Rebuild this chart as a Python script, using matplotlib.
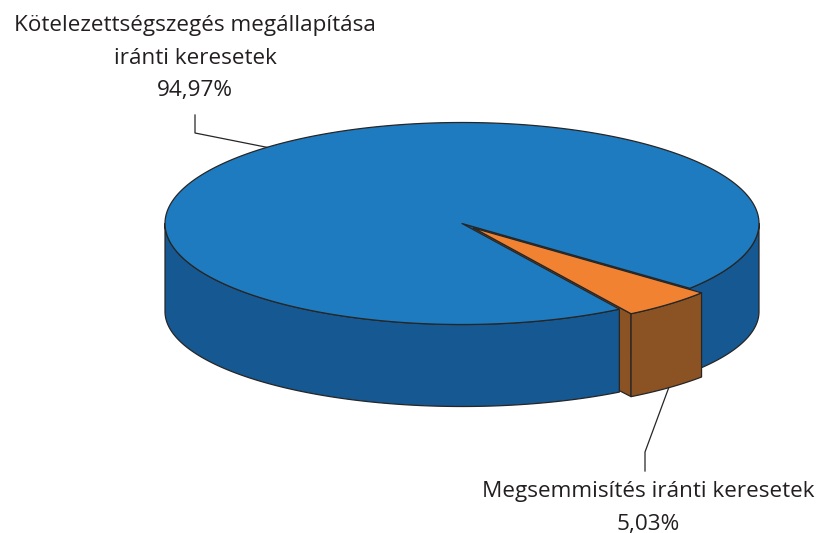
import numpy as np
import matplotlib.pyplot as plt
from matplotlib.patches import Polygon

# ---------------------------------------------------------------------------
# Data
# ---------------------------------------------------------------------------
labels = ["Kötelezettségszegés megállapítása\niránti keresetek",
          "Megsemmisítés iránti keresetek"]
shares = [94.97, 5.03]
pct_text = ["94,97%", "5,03%"]
explode = [0.0, 0.06]

top_colors = ["#1f7bc0", "#f08232"]
side_colors = ["#155892", "#8b5223"]
edge = "#262626"

# ---------------------------------------------------------------------------
# Pie geometry (pixel space)
# ---------------------------------------------------------------------------
W, H = 819, 533
cx, cy = 462.0, 223.5
rx, ry_top = 297.0, 101.0
depth, ry_bot = 88.0, 95.0
start_angle = -39.9


def top_pt(th, dx=0.0, dy=0.0):
    t = np.radians(th)
    return cx + dx + rx * np.cos(t), cy + dy - ry_top * np.sin(t)


def bot_pt(th, dx=0.0, dy=0.0):
    t = np.radians(th)
    return cx + dx + rx * np.cos(t), cy + depth + dy - ry_bot * np.sin(t)


def arc(fn, a0, a1, dx, dy, n=120):
    th = np.linspace(a0, a1, n)
    return [fn(t, dx, dy) for t in th]


fig = plt.figure(figsize=(W / 100, H / 100), dpi=100)
ax = fig.add_axes([0, 0, 1, 1])
ax.set_xlim(0, W)
ax.set_ylim(H, 0)
ax.axis("off")

# slice angle ranges (counter-clockwise)
ranges = []
a = start_angle
for s in shares:
    ranges.append((a, a + s * 3.6))
    a += s * 3.6

offsets = []
for (a0, a1), e in zip(ranges, explode):
    mid = np.radians((a0 + a1) / 2)
    offsets.append((e * rx * np.cos(mid), -e * ry_top * np.sin(mid)))

kw = dict(edgecolor=edge, linewidth=0.9, joinstyle="round")

# draw order: blue cut face, orange cut face, blue body, orange body
b0, b1 = ranges[0]
o0, o1 = ranges[1]
bdx, bdy = offsets[0]
odx, ody = offsets[1]

# blue radial face at start angle (mostly hidden by the orange slice)
face = [(cx + bdx, cy + bdy), top_pt(b0, bdx, bdy), bot_pt(b0, bdx, bdy),
        (cx + bdx, cy + depth + bdy)]
ax.add_patch(Polygon(face, facecolor=side_colors[0], **kw))

# orange radial face at its start angle
face = [(cx + odx, cy + ody), top_pt(o0, odx, ody), bot_pt(o0, odx, ody),
        (cx + odx, cy + depth + ody)]
ax.add_patch(Polygon(face, facecolor=side_colors[1], **kw))

# blue outer wall, front half only
for w0, w1 in [(180, o0), (b0 + 360, 360)]:
    pts = arc(top_pt, w0, w1, bdx, bdy) + arc(bot_pt, w1, w0, bdx, bdy)
    ax.add_patch(Polygon(pts, facecolor=side_colors[0], **kw))

# blue top
pts = [(cx + bdx, cy + bdy)] + arc(top_pt, b0, b1, bdx, bdy, 400)
ax.add_patch(Polygon(pts, facecolor=top_colors[0], **kw))

# orange outer wall
pts = arc(top_pt, o0, o1, odx, ody) + arc(bot_pt, o1, o0, odx, ody)
ax.add_patch(Polygon(pts, facecolor=side_colors[1], **kw))

# orange top
pts = [(cx + odx, cy + ody)] + arc(top_pt, o0, o1, odx, ody)
ax.add_patch(Polygon(pts, facecolor=top_colors[1], **kw))

# ---------------------------------------------------------------------------
# Labels with leader lines
# ---------------------------------------------------------------------------
font = dict(family="Open Sans", fontsize=16.2, color="#231f20",
            ha="center", va="top", linespacing=1.72)

# big slice: anchor on top rim at mid angle
mid0 = (b0 + b1) / 2
x0, y0 = top_pt(mid0, bdx, bdy)
ax.plot([195, 195, x0], [115, 133, y0], color=edge, lw=0.9)
ax.text(195, 15, labels[0] + "\n" + pct_text[0], **font)

# small slice: anchor on bottom rim at mid angle
mid1 = (o0 + o1) / 2
x1, y1 = bot_pt(mid1, odx, ody)
ax.plot([645, 645, x1], [471, 452, y1], color=edge, lw=0.9)
ax.text(648, 481, labels[1] + "\n" + pct_text[1], **font)

fig.savefig("out.png", dpi=100)
